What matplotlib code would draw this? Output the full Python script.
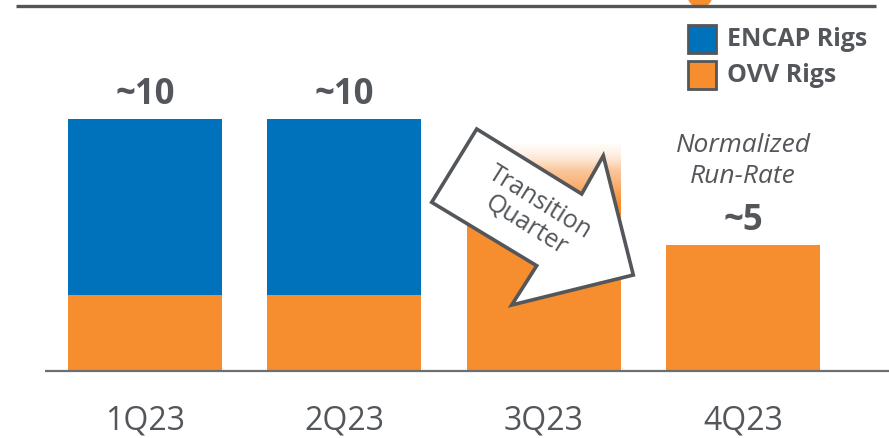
import numpy as np
import matplotlib.pyplot as plt
from matplotlib.patches import Polygon, Rectangle, Circle
from matplotlib.colors import LinearSegmentedColormap

quarters = ["1Q23", "2Q23", "3Q23", "4Q23"]
ovv_rigs = [3.0, 3.0, 5.6, 5.0]
encap_rigs = [7.0, 7.0, 0.0, 0.0]
fade_top = [None, None, 9.0, None]   # 3Q23 fades out (transition)
labels = ["~10", "~10", "", "~5"]

BLUE = "#0072bc"
ORANGE = "#f68d2e"
GREY = "#53565a"

plt.rcParams["font.family"] = ["Open Sans", "DejaVu Sans"]

fig = plt.figure(figsize=(8.89, 4.39), dpi=100)

# main data axes: full figure, baseline at y=372px, ~25.2px per rig
ax = fig.add_axes([0, 0, 1, 1])
ppu_x = 199.33
ppu_y = 25.2
xlim = (-145 / ppu_x, (889 - 145) / ppu_x)
ylim = (-67 / ppu_y, (439 - 67) / ppu_y)
ax.axis("off")

x = np.arange(len(quarters))
w = 154 / ppu_x
ax.bar(x, ovv_rigs, width=w, color=ORANGE, zorder=2)
ax.bar(x, encap_rigs, width=w, bottom=ovv_rigs, color=BLUE, zorder=2)

# gradient fade on the transition bar
cmap = LinearSegmentedColormap.from_list(
    "fade", [(0, ORANGE), (0.3, ORANGE), (0.7, (0.97, 0.6, 0.3, 0.55)),
             (1, (1, 0.9, 0.8, 0.15))])
for i, top in enumerate(fade_top):
    if top is None:
        continue
    grad = np.linspace(0, 1, 64).reshape(-1, 1)
    ax.imshow(grad, cmap=cmap, aspect="auto", zorder=2, origin="lower",
              extent=(i - w / 2, i + w / 2, ovv_rigs[i] - 0.05, top),
              interpolation="bilinear")
ax.set_xlim(*xlim)
ax.set_ylim(*ylim)

for i, lab in enumerate(labels):
    if lab:
        ax.annotate(lab, (i, ovv_rigs[i] + encap_rigs[i]), xytext=(0, 5),
                    textcoords="offset points", ha="center", va="bottom",
                    fontsize=25, fontweight="bold", color=GREY)

for i, q in enumerate(quarters):
    ax.annotate(q, (i, 0), xytext=(0, -35), textcoords="offset points",
                ha="center", va="center", fontsize=23, color=GREY)

ax.annotate("Normalized\nRun-Rate", (3, 5), xytext=(0, 61),
            textcoords="offset points", ha="center", va="center",
            fontsize=19, style="italic", color=GREY, linespacing=1.3)

# overlay axes in pixel coordinates for decorations
ov = fig.add_axes([0, 0, 1, 1], zorder=3)
ov.set_xlim(0, 889)
ov.set_ylim(439, 0)
ov.axis("off")

ov.plot([45, 889], [372, 372], color="#6d6e71", lw=1.6, solid_capstyle="butt")
ov.plot([16, 876], [7, 7], color=GREY, lw=2.4, solid_capstyle="butt")
ov.add_patch(Circle((700, -4), 12, color=ORANGE, zorder=1))

# legend
for yy, col, txt in [(26, BLUE, "ENCAP Rigs"), (62, ORANGE, "OVV Rigs")]:
    ov.add_patch(Rectangle((688, yy), 28, 28, facecolor=col,
                           edgecolor=GREY, lw=2))
    ov.text(727, yy + 14, txt, ha="left", va="center", fontsize=18,
            fontweight="bold", color=GREY)

# transition arrow
arrow = [(476.7, 130), (431.7, 203.3), (536.7, 266.7), (511.7, 306),
         (633.3, 276), (603.3, 156.7), (581.7, 195)]
ov.add_patch(Polygon(arrow, closed=True, facecolor="white",
                     edgecolor=GREY, lw=2.6, joinstyle="miter"))
ov.text(533, 214, "Transition\nQuarter", ha="center", va="center",
        rotation=-32, rotation_mode="anchor", fontsize=18, color=GREY,
        linespacing=1.1)

fig.savefig("out.png", dpi=100)
